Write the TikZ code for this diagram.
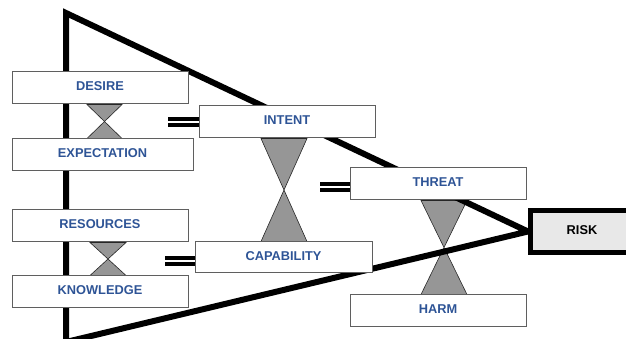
\documentclass[tikz,border=0pt]{standalone}
\usepackage{fontspec}
\setmainfont{Liberation Sans}
\usetikzlibrary{backgrounds}
\definecolor{labelblue}{RGB}{46,84,150}
\definecolor{glassgray}{RGB}{150,150,150}
\definecolor{riskgray}{RGB}{232,232,232}
\definecolor{framegray}{RGB}{95,95,95}
\begin{document}
\begin{tikzpicture}[line join=miter,
  box/.style={draw=framegray,line width=1bp,fill=white,minimum width=176bp,minimum height=32bp,
    inner sep=0pt,text depth=3bp,font=\fontsize{12.8bp}{15bp}\selectfont\bfseries,text=labelblue},
  riskbox/.style={box,draw=black,line width=5bp,fill=riskgray,minimum width=103bp,minimum height=42bp,text=black},
  wedge/.style={line width=6bp},
  glass/.style={draw=black!85,line width=0.6bp,fill=glassgray},
  link/.style={line width=4bp,double distance=2bp,double=white}]
  \useasboundingbox (0bp,0bp) rectangle (626bp,339bp);
%%
  % Node: DESIRE
  \node[box] (desire) at (100bp,251bp) {DESIRE};
  % Node: EXPECTATION
  \node[box,minimum width=181bp] (expectation) at (102.5bp,184bp) {EXPECTATION};
  % Node: RESOURCES
  \node[box] (resources) at (100bp,113bp) {RESOURCES};
  % Node: KNOWLEDGE
  \node[box] (knowledge) at (100bp,47bp) {KNOWLEDGE};
  % Node: INTENT
  \node[box] (intent) at (287bp,217bp) {INTENT};
  % Node: CAPABILITY
  \node[box,minimum width=177bp,minimum height=31bp] (capability) at (283.5bp,81.5bp) {CAPABILITY};
  % Node: THREAT
  \node[box] (threat) at (438bp,155bp) {THREAT};
  % Node: HARM
  \node[box] (harm) at (438bp,28bp) {HARM};
  % Node: RISK
  \node[riskbox] (risk) at (582bp,107.5bp) {RISK};
%
\begin{pgfonlayer}{background}
  % Edge: DESIRE -- EXPECTATION
  \draw[glass] ([xshift=-13bp]desire.south) -- ([xshift=22bp]desire.south)
    -- ([xshift=-15.5bp]expectation.north) -- ([xshift=19.5bp]expectation.north) -- cycle;
  % Edge: RESOURCES -- KNOWLEDGE
  \draw[glass] ([xshift=-10bp]resources.south) -- ([xshift=26bp]resources.south)
    -- ([xshift=-10bp]knowledge.north) -- ([xshift=26bp]knowledge.north) -- cycle;
  % Edge: INTENT -- CAPABILITY
  \draw[glass] ([xshift=-26bp]intent.south) -- ([xshift=20bp]intent.south)
    -- ([xshift=-22.5bp]capability.north) -- ([xshift=23.5bp]capability.north) -- cycle;
  % Edge: THREAT -- HARM
  \draw[glass] ([xshift=-17bp]threat.south) -- ([xshift=29bp]threat.south)
    -- ([xshift=-17bp]harm.north) -- ([xshift=29bp]harm.north) -- cycle;
  % Edge: wedge -> RISK
  \coordinate (top) at (66bp,326bp);
  \coordinate (foot) at (66bp,-3bp);
  \draw[wedge] (top) -- (risk.west) -- (foot) -- cycle;
\end{pgfonlayer}
%
  % Edge: = -> INTENT
  \coordinate (bar1) at (168bp,217bp);
  \draw[link] (bar1) -- (intent.west);
  % Edge: = -> CAPABILITY
  \coordinate (bar2) at (165bp,78bp);
  \draw[link] (bar2) -- ([yshift=-3.5bp]capability.west);
  % Edge: = -> THREAT
  \coordinate (bar3) at (320bp,152bp);
  \draw[link] (bar3) -- ([yshift=-3bp]threat.west);
%
\end{tikzpicture}
\end{document}
